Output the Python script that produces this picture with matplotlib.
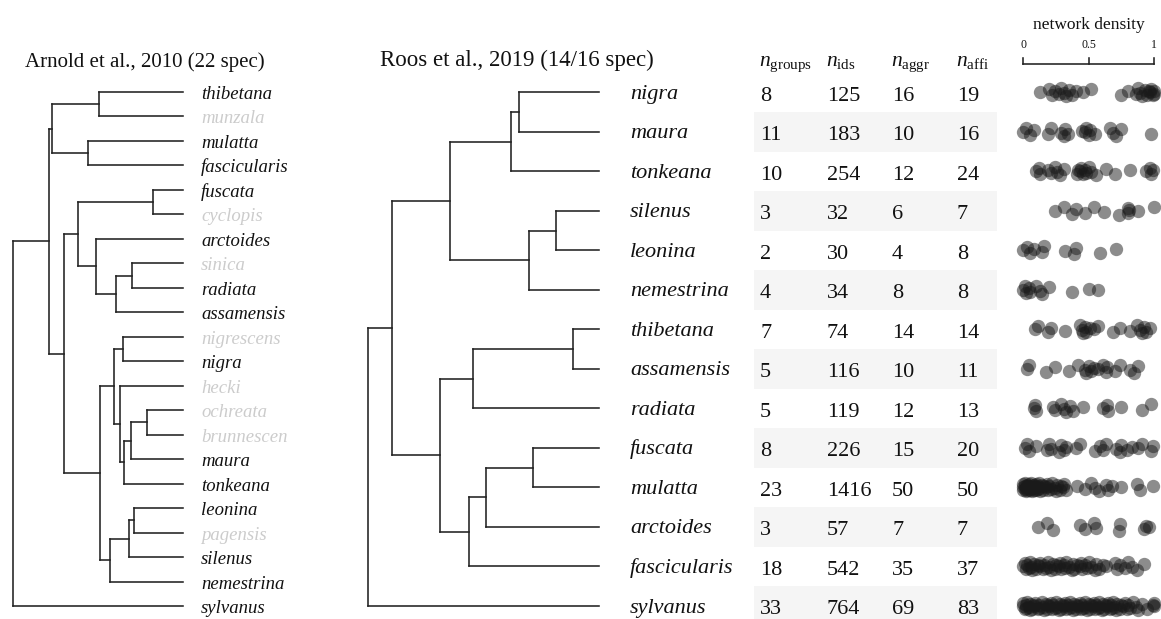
import matplotlib
matplotlib.use("Agg")
import matplotlib.pyplot as plt
import numpy as np

plt.rcParams['font.family'] = ['Liberation Serif', 'DejaVu Serif']
plt.rcParams['mathtext.fontset'] = 'custom'
plt.rcParams['mathtext.rm'] = 'Liberation Serif'
plt.rcParams['mathtext.it'] = 'Liberation Serif:italic'

# ---- data ----
left_title = "Arnold et al., 2010 (22 spec)"
right_title = "Roos et al., 2019 (14/16 spec)"

left_tips = ["thibetana", "munzala", "mulatta", "fascicularis", "fuscata", "cyclopis",
             "arctoides", "sinica", "radiata", "assamensis", "nigrescens", "nigra",
             "hecki", "ochreata", "brunnescens", "maura", "tonkeana", "leonina",
             "pagensis", "silenus", "nemestrina", "sylvanus"]
left_missing = ["munzala", "cyclopis", "sinica", "nigrescens", "hecki", "ochreata",
                "brunnescens", "pagensis"]
# internal node = (depth, child, child); depth 0 = root, 1 = tips
left_tree = (0.0,
             (0.213,
              (0.233, (0.509, "thibetana", "munzala"), (0.440, "mulatta", "fascicularis")),
              (0.301,
               (0.382, (0.824, "fuscata", "cyclopis"),
                (0.491, "arctoides", (0.605, (0.699, "sinica", "radiata"), "assamensis"))),
               (0.513,
                (0.597, (0.649, "nigrescens", "nigra"),
                 (0.632, "hecki", (0.655, (0.693, (0.789, "ochreata", "brunnescens"), "maura"), "tonkeana"))),
                (0.573, (0.683, (0.712, "leonina", "pagensis"), "silenus"), "nemestrina")))),
             "sylvanus")

right_tips = ["nigra", "maura", "tonkeana", "silenus", "leonina", "nemestrina", "thibetana",
              "assamensis", "radiata", "fuscata", "mulatta", "arctoides", "fascicularis", "sylvanus"]
right_tree = (0.0,
              (0.104,
               (0.355, (0.619, (0.654, "nigra", "maura"), "tonkeana"),
                (0.697, (0.815, "silenus", "leonina"), "nemestrina")),
               (0.311, (0.456, (0.890, "thibetana", "assamensis"), "radiata"),
                (0.438, (0.511, (0.715, "fuscata", "mulatta"), "arctoides"), "fascicularis"))),
              "sylvanus")

n_groups = [8, 11, 10, 3, 2, 4, 7, 5, 5, 8, 23, 3, 18, 33]
n_ids = [125, 183, 254, 32, 30, 34, 74, 116, 119, 226, 1416, 57, 542, 764]
n_aggr = [16, 10, 12, 6, 4, 8, 14, 10, 12, 15, 50, 7, 35, 69]
n_affi = [19, 16, 24, 7, 8, 8, 14, 11, 13, 20, 50, 7, 37, 83]
headers = [r"$n_{\mathrm{groups}}$", r"$n_{\mathrm{ids}}$", r"$n_{\mathrm{aggr}}$", r"$n_{\mathrm{affi}}$"]

density = {
    "nigra": [0.13, 0.20, 0.22, 0.24, 0.27, 0.29, 0.31, 0.33, 0.35, 0.37, 0.40, 0.46, 0.52,
              0.75, 0.80, 0.86, 0.88, 0.89, 0.91, 0.93, 0.95, 0.96, 0.97, 0.98, 0.99, 1.0, 1.0],
    "maura": [0.0, 0.02, 0.05, 0.08, 0.19, 0.21, 0.29, 0.31, 0.32, 0.34, 0.45, 0.47, 0.48,
              0.50, 0.51, 0.55, 0.66, 0.69, 0.71, 0.75, 0.98],
    "tonkeana": [0.10, 0.12, 0.13, 0.19, 0.21, 0.24, 0.26, 0.28, 0.31, 0.41, 0.42, 0.43, 0.44,
                 0.46, 0.47, 0.48, 0.50, 0.52, 0.56, 0.63, 0.70, 0.82, 0.94, 0.97, 0.98, 0.99],
    "silenus": [0.24, 0.31, 0.37, 0.40, 0.47, 0.54, 0.62, 0.73, 0.80, 0.80, 0.81, 0.875, 1.0],
    "leonina": [0.0, 0.03, 0.05, 0.08, 0.14, 0.16, 0.32, 0.39, 0.40, 0.59, 0.71],
    "nemestrina": [0.0, 0.01, 0.02, 0.04, 0.05, 0.10, 0.13, 0.14, 0.20, 0.37, 0.50, 0.57],
    "thibetana": [0.09, 0.11, 0.19, 0.21, 0.32, 0.43, 0.45, 0.46, 0.47, 0.48, 0.51, 0.54, 0.57,
                  0.69, 0.74, 0.82, 0.87, 0.89, 0.91, 0.92, 0.94, 0.97],
    "assamensis": [0.03, 0.04, 0.17, 0.24, 0.35, 0.42, 0.47, 0.48, 0.50, 0.52, 0.54, 0.57, 0.61,
                   0.63, 0.64, 0.70, 0.74, 0.82, 0.85, 0.88],
    "radiata": [0.08, 0.09, 0.10, 0.23, 0.24, 0.29, 0.31, 0.33, 0.36, 0.38, 0.46, 0.61, 0.64,
                0.65, 0.75, 0.91, 0.98],
    "fuscata": [0.01, 0.03, 0.04, 0.10, 0.18, 0.20, 0.21, 0.27, 0.29, 0.31, 0.33, 0.40, 0.43,
                0.55, 0.59, 0.61, 0.63, 0.71, 0.74, 0.75, 0.79, 0.83, 0.88, 0.91, 0.98, 0.99],
    "mulatta": [0.0, 0.0, 0.0, 0.01, 0.01, 0.01, 0.02, 0.02, 0.03, 0.03, 0.03, 0.04, 0.04, 0.05,
                0.05, 0.06, 0.06, 0.07, 0.07, 0.08, 0.08, 0.09, 0.09, 0.10, 0.10, 0.11, 0.11,
                0.12, 0.12, 0.13, 0.14, 0.15, 0.16, 0.17, 0.18, 0.19, 0.20, 0.21, 0.22, 0.24,
                0.25, 0.26, 0.28, 0.29, 0.30, 0.31, 0.33, 0.41, 0.47, 0.52, 0.55, 0.58, 0.63,
                0.65, 0.68, 0.75, 0.87, 0.89, 0.99],
    "arctoides": [0.11, 0.18, 0.23, 0.43, 0.47, 0.54, 0.56, 0.73, 0.74, 0.92, 0.94, 0.96],
    "fascicularis": [0.0, 0.01, 0.02, 0.03, 0.04, 0.05, 0.06, 0.07, 0.08, 0.10, 0.11, 0.12,
                     0.13, 0.15, 0.16, 0.17, 0.19, 0.20, 0.21, 0.23, 0.24, 0.25, 0.27, 0.28,
                     0.29, 0.31, 0.32, 0.33, 0.35, 0.37, 0.38, 0.39, 0.41, 0.43, 0.44, 0.45,
                     0.47, 0.49, 0.50, 0.52, 0.55, 0.56, 0.58, 0.61, 0.63, 0.70, 0.72, 0.74,
                     0.78, 0.80, 0.83, 0.87, 0.92],
    "sylvanus": [0.0, 0.0, 0.01, 0.02, 0.02, 0.03, 0.04, 0.05, 0.05, 0.07, 0.08, 0.08, 0.09,
                 0.11, 0.12, 0.12, 0.14, 0.15, 0.16, 0.17, 0.18, 0.19, 0.20, 0.21, 0.22, 0.23,
                 0.24, 0.25, 0.26, 0.27, 0.28, 0.29, 0.30, 0.31, 0.32, 0.33, 0.34, 0.35, 0.36,
                 0.37, 0.38, 0.39, 0.40, 0.41, 0.42, 0.43, 0.44, 0.45, 0.46, 0.47, 0.48, 0.49,
                 0.50, 0.51, 0.52, 0.53, 0.54, 0.55, 0.56, 0.57, 0.58, 0.59, 0.60, 0.61, 0.62,
                 0.63, 0.64, 0.65, 0.66, 0.67, 0.68, 0.69, 0.70, 0.71, 0.72, 0.74, 0.75, 0.76,
                 0.78, 0.79, 0.80, 0.82, 0.84, 0.86, 0.88, 0.91, 0.95, 0.99, 1.0, 1.0],
}

# ---- figure ----
W, H = 1161, 619
fig = plt.figure(figsize=(W / 100, H / 100), dpi=100)
LINE = '#222222'


def draw_tree(ax, node, tip_y, lw):
    if isinstance(node, str):
        return 1.0, tip_y[node]
    d = node[0]
    kids = [draw_tree(ax, c, tip_y, lw) for c in node[1:]]
    ys = [k[1] for k in kids]
    ax.plot([d, d], [min(ys), max(ys)], color=LINE, lw=lw, solid_capstyle='projecting')
    for kx, ky in kids:
        ax.plot([d, kx], [ky, ky], color=LINE, lw=lw, solid_capstyle='projecting')
    return d, (min(ys) + max(ys)) / 2


# left tree: pixel span 0..287, root at 12.7px, tips at 183px, rows from 92px, 24.48px apart
lsp = (606 - 92) / 21
axL = fig.add_axes([0, 0, 287 / W, 1])
axL.set_xlim(-12.7 / 170.3, (287 - 12.7) / 170.3)
axL.set_ylim((H - 92) / lsp, -92 / lsp)
axL.axis('off')
ly = {t: i for i, t in enumerate(left_tips)}
draw_tree(axL, left_tree, ly, 1.15)
for t, i in ly.items():
    col = '#cccccc' if t in left_missing else '#111111'
    axL.text(1.106, i + 7 / lsp, t, fontsize=13.5, style='italic', color=col,
             va='baseline', ha='left', clip_on=True)
axL.text(0.072, -25 / lsp, left_title, fontsize=15, va='baseline', ha='left', color='#111111')

# right tree: root at 368.3px, tips at 598.7px, rows from 92.3px, 39.52px apart
rsp = (606 - 92.3) / 13
axR = fig.add_axes([340 / W, 0, 410 / W, 1])
axR.set_xlim((340 - 368.3) / 230.4, (750 - 368.3) / 230.4)
axR.set_ylim((H - 92.3) / rsp, -92.3 / rsp)
axR.axis('off')
ry = {t: i for i, t in enumerate(right_tips)}
draw_tree(axR, right_tree, ry, 1.15)
for t, i in ry.items():
    axR.text(1.136, i + 6.5 / rsp, t, fontsize=16, style='italic', color='#111111',
             va='baseline', ha='left')
axR.text(0.051, -26.3 / rsp, right_title, fontsize=16.5, va='baseline', ha='left', color='#111111')

# table: x in pixels, y in rows
axT = fig.add_axes([0, 0, 1, 1])
axT.set_xlim(0, W)
axT.set_ylim((H - 92.3) / rsp, -92.3 / rsp)
axT.axis('off')
rows = np.arange(len(right_tips))
axT.barh(rows[1::2], 243, left=754, height=1.0, color='#f5f5f5', zorder=0)
col_x = [759, 826, 891, 956]
for cx, hd, vals in zip(col_x, headers, [n_groups, n_ids, n_aggr, n_affi]):
    axT.text(cx, -26.3 / rsp, hd, fontsize=15.5, va='baseline', ha='left', color='#111111')
    for r, v in zip(rows, vals):
        axT.text(cx + 1, r + 8.5 / rsp, str(v), fontsize=16, va='baseline', ha='left',
                 color='#111111')

# network density strips
axD = fig.add_axes([1023.3 / W, 0, 130.7 / W, 1])
axD.set_xlim(0, 1)
axD.set_ylim((H - 92.3) / rsp, -92.3 / rsp)
axD.axis('off')
jit = np.array([0, -3.5, 3, -1.5, 2, -4, 1, 4, -2.5, 2.5, -1]) / rsp
for r, t in enumerate(right_tips):
    vals = np.array(density[t])
    off = jit[np.arange(len(vals)) % len(jit)]
    axD.scatter(vals, r + off, s=92, c='#1a1a1a', alpha=0.5, linewidths=0, clip_on=False)

ax_y = (64.3 - 92.3) / rsp
tick_top = (58.3 - 92.3) / rsp
axD.plot([0, 1], [ax_y, ax_y], color=LINE, lw=1.15, clip_on=False)
for tv, tl in zip([0, 0.5, 1], ["0", "0.5", "1"]):
    axD.plot([tv, tv], [ax_y, tick_top], color=LINE, lw=1.15, clip_on=False)
    axD.text(tv, (45 - 92.3) / rsp, tl, fontsize=8.5, ha='center', va='center', color='#111111')
axD.text(0.5, (25 - 92.3) / rsp, "network density", fontsize=12.5, ha='center', va='center',
         color='#111111')

fig.savefig('out.png', dpi=100)
